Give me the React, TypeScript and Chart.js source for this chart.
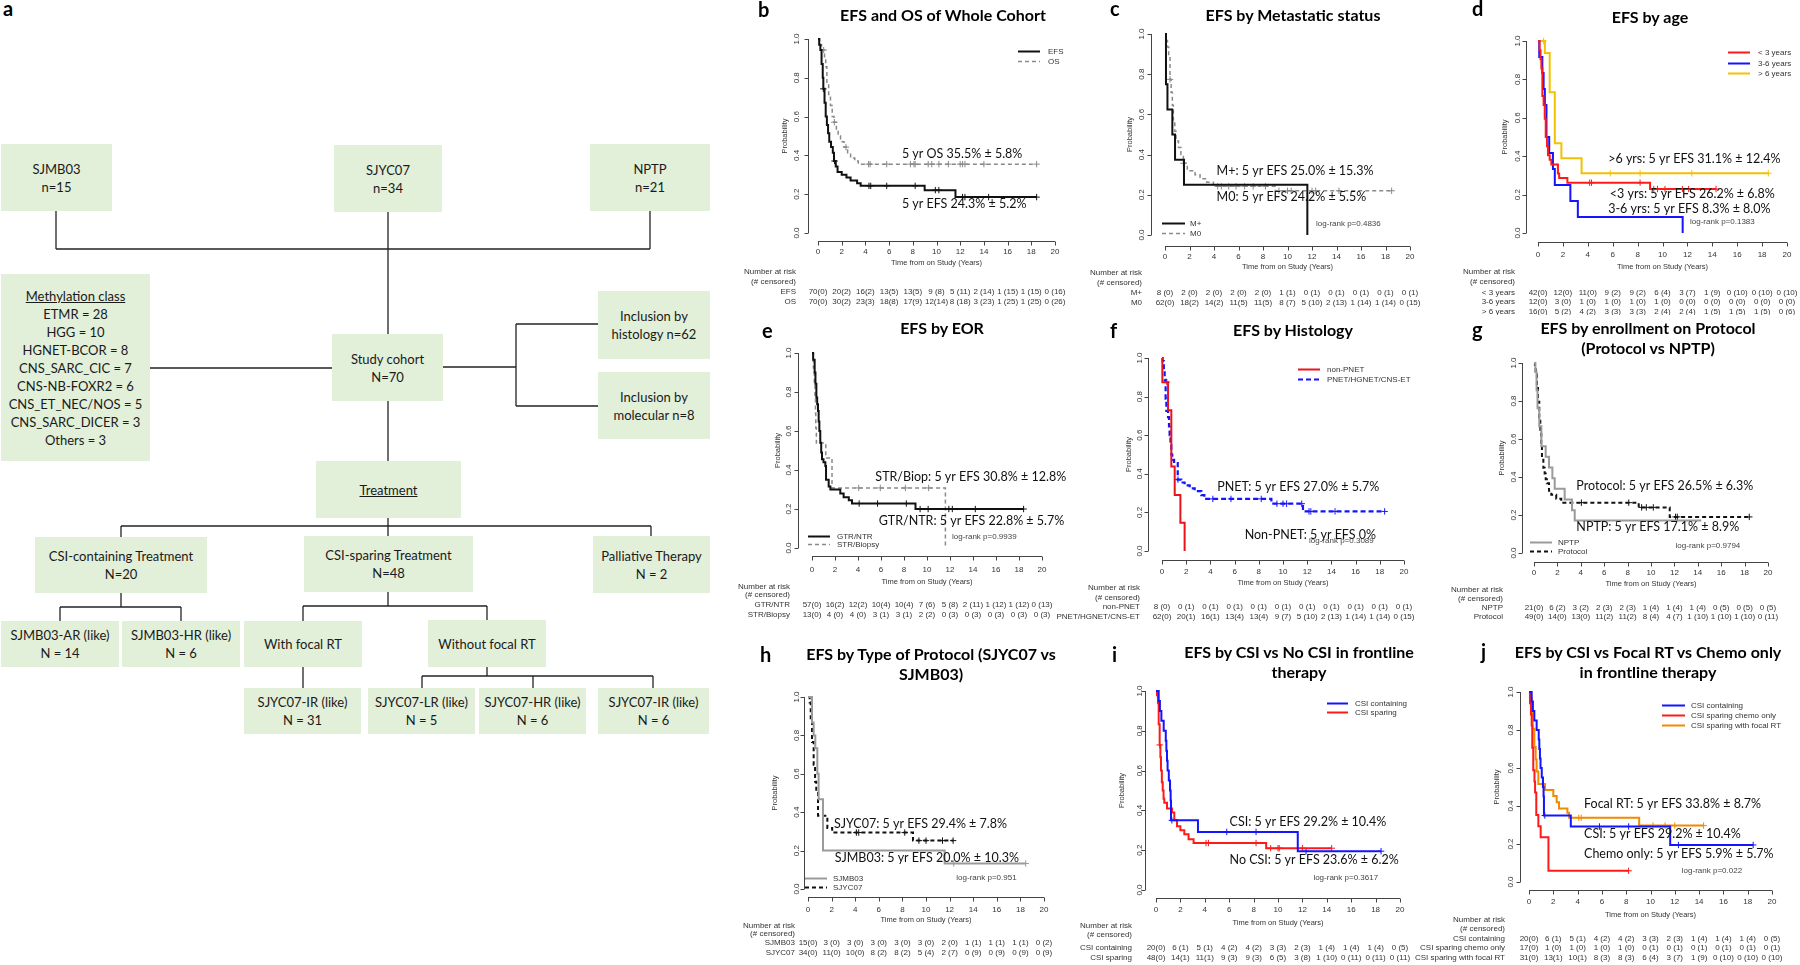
import React, { useEffect, useRef } from "react";
import { Chart, registerables } from "chart.js";
Chart.register(...registerables);

// ---------- shared axis data ----------
const X_TICKS = [0, 2, 4, 6, 8, 10, 12, 14, 16, 18, 20];
const Y_TICKS = [0, 0.2, 0.4, 0.6, 0.8, 1.0];
const Y_TICK_LABELS = ["0.0", "0.2", "0.4", "0.6", "0.8", "1.0"];
const X_TITLE = "Time from on Study (Years)";
const Y_TITLE = "Probability";

// ---------- b: EFS and OS of whole cohort ----------
const B_EFS_T = [0, 0.1, 0.2, 0.3, 0.4, 0.45, 0.55, 0.65, 0.75, 0.85, 0.95, 1.1, 1.25, 1.35, 1.5, 1.65, 2.0, 2.4, 2.75, 3.3, 3.6, 9.0, 11.6, 18.45];
const B_EFS_S = [1, 0.971, 0.943, 0.871, 0.8, 0.743, 0.671, 0.6, 0.557, 0.514, 0.471, 0.443, 0.414, 0.371, 0.343, 0.314, 0.3, 0.286, 0.271, 0.257, 0.243, 0.221, 0.185, 0.185];
const B_EFS_CENS = [0.45, 1.4, 4.3, 4.45, 5.8, 8.2, 9.9, 10.2, 12.2, 12.4, 14.4, 18.45];
const B_OS_T = [0, 0.15, 0.3, 0.55, 0.65, 0.75, 0.9, 1.05, 1.2, 1.35, 1.55, 1.7, 1.9, 2.2, 2.5, 2.75, 3.1, 3.4, 18.45];
const B_OS_S = [1, 0.971, 0.943, 0.9, 0.857, 0.771, 0.714, 0.657, 0.6, 0.571, 0.529, 0.5, 0.471, 0.443, 0.414, 0.386, 0.371, 0.355, 0.355];
const B_OS_CENS = [0.48, 1.38, 2.36, 4.27, 4.4, 5.8, 7.8, 8.1, 8.2, 9.3, 9.6, 10.2, 11.0, 12.0, 12.2, 12.4, 14.0, 18.45];
const B_RISK_EFS = ["70(0)", "20(2)", "16(2)", "13(5)", "13(5)", "9 (8)", "5 (11)", "2 (14)", "1 (15)", "1 (15)", "0 (16)"];
const B_RISK_OS = ["70(0)", "30(2)", "23(3)", "18(8)", "17(9)", "12(14)", "8 (18)", "3 (23)", "1 (25)", "1 (25)", "0 (26)"];

// ---------- c: metastatic status ----------
const C_MP_T = [0, 0.08, 0.2, 0.6, 0.82, 1.55, 11.62];
const C_MP_S = [1, 0.75, 0.625, 0.5, 0.375, 0.25, 0];
const C_MP_CENS: number[] = [];
const C_M0_T = [0, 0.1, 0.2, 0.3, 0.41, 0.5, 0.6, 0.68, 0.8, 0.9, 1.1, 1.3, 1.5, 1.82, 2.45, 2.86, 3.4, 3.95, 9.0, 18.5];
const C_M0_S = [1, 0.968, 0.935, 0.887, 0.774, 0.71, 0.645, 0.573, 0.516, 0.468, 0.435, 0.4, 0.357, 0.32, 0.3, 0.28, 0.262, 0.242, 0.22, 0.22];
const C_M0_CENS = [0.41, 1.5, 4.3, 4.6, 5.2, 5.8, 6.5, 7.2, 8.2, 9.3, 10.0, 10.3, 12.0, 12.3, 14.2, 18.5];
const C_RISK_MP = ["8 (0)", "2 (0)", "2 (0)", "2 (0)", "2 (0)", "1 (1)", "0 (1)", "0 (1)", "0 (1)", "0 (1)", "0 (1)"];
const C_RISK_M0 = ["62(0)", "18(2)", "14(2)", "11(5)", "11(5)", "8 (7)", "5 (10)", "2 (13)", "1 (14)", "1 (14)", "0 (15)"];

// ---------- d: age ----------
const D_LT3_T = [0, 0.13, 0.2, 0.27, 0.35, 0.45, 0.54, 0.62, 0.72, 0.8, 0.94, 1.07, 1.6, 1.7, 2.36, 9.0, 14.3];
const D_LT3_S = [1, 0.952, 0.905, 0.857, 0.714, 0.667, 0.595, 0.5, 0.452, 0.405, 0.381, 0.357, 0.31, 0.286, 0.262, 0.229, 0.229];
const D_LT3_CENS = [4.15, 4.3, 8.2, 9.3, 9.6, 10.2, 11.6, 12.1, 14.3];
const D_36_T = [0, 0.1, 0.35, 0.45, 0.55, 0.68, 0.9, 1.2, 1.35, 2.6, 3.2, 11.62];
const D_36_S = [1, 0.917, 0.833, 0.75, 0.667, 0.5, 0.417, 0.333, 0.25, 0.167, 0.083, 0];
const D_36_CENS: number[] = [];
const D_GT6_T = [0, 0.55, 0.94, 1.35, 1.88, 3.5, 18.5];
const D_GT6_S = [1, 0.9375, 0.733, 0.467, 0.389, 0.311, 0.311];
const D_GT6_CENS = [0.45, 5.8, 8.2, 12.35, 18.5];
const D_RISK_LT3 = ["42(0)", "12(0)", "11(0)", "9 (2)", "9 (2)", "6 (4)", "3 (7)", "1 (9)", "0 (10)", "0 (10)", "0 (10)"];
const D_RISK_36 = ["12(0)", "3 (0)", "1 (0)", "1 (0)", "1 (0)", "1 (0)", "0 (0)", "0 (0)", "0 (0)", "0 (0)", "0 (0)"];
const D_RISK_GT6 = ["16(0)", "5 (2)", "4 (2)", "3 (3)", "3 (3)", "2 (4)", "2 (4)", "1 (5)", "1 (5)", "1 (5)", "0 (6)"];

// ---------- e: extent of resection ----------
const E_GTR_T = [0, 0.1, 0.23, 0.3, 0.38, 0.45, 0.52, 0.58, 0.64, 0.72, 0.8, 0.87, 1.0, 1.16, 1.22, 1.45, 1.6, 2.46, 2.75, 3.2, 3.48, 9.0, 18.4];
const E_GTR_S = [1, 0.965, 0.9, 0.842, 0.772, 0.737, 0.702, 0.649, 0.6, 0.54, 0.49, 0.455, 0.44, 0.42, 0.35, 0.316, 0.3, 0.28, 0.26, 0.245, 0.228, 0.2, 0.2];
const E_GTR_CENS = [4.1, 5.7, 8.2, 9.4, 10.1, 11.9, 12.2, 14.2, 18.4];
const E_STR_T = [0, 0.12, 0.2, 0.26, 0.3, 0.33, 0.38, 1.2, 1.74, 11.6];
const E_STR_S = [1, 0.923, 0.846, 0.769, 0.692, 0.615, 0.538, 0.462, 0.308, 0];
const E_STR_CENS = [4.06, 5.94, 8.12, 10.14];
const E_RISK_GTR = ["57(0)", "16(2)", "12(2)", "10(4)", "10(4)", "7 (6)", "5 (8)", "2 (11)", "1 (12)", "1 (12)", "0 (13)"];
const E_RISK_STR = ["13(0)", "4 (0)", "4 (0)", "3 (1)", "3 (1)", "2 (2)", "0 (3)", "0 (3)", "0 (3)", "0 (3)", "0 (3)"];

// ---------- f: histology ----------
const F_NON_T = [0, 0.03, 0.5, 0.77, 1.05, 1.52, 1.87];
const F_NON_S = [1, 0.875, 0.729, 0.4375, 0.29, 0.146, 0];
const F_NON_CENS = [0.4];
const F_PNET_T = [0, 0.05, 0.15, 0.22, 0.3, 0.36, 0.5, 0.58, 0.63, 0.7, 0.77, 0.85, 1.0, 1.3, 1.6, 1.87, 2.29, 2.7, 3.25, 3.5, 9.04, 11.65, 18.4];
const F_PNET_S = [1, 0.984, 0.935, 0.887, 0.79, 0.726, 0.694, 0.645, 0.6, 0.548, 0.5, 0.472, 0.455, 0.37, 0.355, 0.34, 0.325, 0.31, 0.29, 0.27, 0.245, 0.205, 0.205];
const F_PNET_CENS = [1.32, 4.2, 5.7, 8.2, 9.5, 10.0, 10.3, 11.55, 12.15, 12.3, 14.3, 18.4];
const F_RISK_NON = ["8 (0)", "0 (1)", "0 (1)", "0 (1)", "0 (1)", "0 (1)", "0 (1)", "0 (1)", "0 (1)", "0 (1)", "0 (1)"];
const F_RISK_PNET = ["62(0)", "20(1)", "16(1)", "13(4)", "13(4)", "9 (7)", "5 (10)", "2 (13)", "1 (14)", "1 (14)", "0 (15)"];

// ---------- g: protocol vs NPTP ----------
const G_NPTP_T = [0, 0.12, 0.22, 0.3, 0.45, 0.63, 1.0, 1.28, 1.57, 1.77, 2.62, 3.25, 3.48, 14.3];
const G_NPTP_S = [1, 0.952, 0.857, 0.762, 0.667, 0.562, 0.506, 0.45, 0.394, 0.338, 0.281, 0.225, 0.171, 0.171];
const G_NPTP_CENS: number[] = [];
const G_PROT_T = [0, 0.08, 0.14, 0.25, 0.34, 0.45, 0.54, 0.62, 0.68, 0.8, 0.91, 1.0, 1.1, 1.28, 1.48, 1.9, 2.33, 8.95, 11.6, 18.4];
const G_PROT_S = [1, 0.98, 0.939, 0.878, 0.796, 0.714, 0.633, 0.571, 0.5, 0.449, 0.418, 0.388, 0.367, 0.327, 0.306, 0.286, 0.265, 0.24, 0.19, 0.19];
const G_PROT_CENS = [4.05, 8.1, 9.2, 9.6, 10.2, 12.1, 12.25, 18.4];
const G_RISK_NPTP = ["21(0)", "6 (2)", "3 (2)", "2 (3)", "2 (3)", "1 (4)", "1 (4)", "1 (4)", "0 (5)", "0 (5)", "0 (5)"];
const G_RISK_PROT = ["49(0)", "14(0)", "13(0)", "11(2)", "11(2)", "8 (4)", "4 (7)", "1 (10)", "1 (10)", "1 (10)", "0 (11)"];

// ---------- h: SJYC07 vs SJMB03 ----------
const H_MB_T = [0, 0.34, 0.48, 0.62, 0.79, 0.9, 1.27, 11.58, 18.45];
const H_MB_S = [1, 0.867, 0.8, 0.733, 0.6, 0.467, 0.2, 0.133, 0.133];
const H_MB_CENS = [12.35, 18.45];
const H_YC_T = [0, 0.14, 0.23, 0.34, 0.48, 0.6, 0.7, 0.85, 1.64, 2.05, 8.9, 12.3];
const H_YC_S = [1, 0.971, 0.882, 0.765, 0.647, 0.559, 0.5, 0.382, 0.318, 0.294, 0.252, 0.252];
const H_YC_CENS = [4.1, 4.3, 8.2, 9.4, 10.0, 11.4, 12.3];
const H_RISK_MB = ["15(0)", "3 (0)", "3 (0)", "3 (0)", "3 (0)", "3 (0)", "2 (0)", "1 (1)", "1 (1)", "1 (1)", "0 (2)"];
const H_RISK_YC = ["34(0)", "11(0)", "10(0)", "8 (2)", "8 (2)", "5 (4)", "2 (7)", "0 (9)", "0 (9)", "0 (9)", "0 (9)"];

// ---------- i / j: CSI ----------
const CSI_CONT_T = [0, 0.22, 0.32, 0.44, 0.63, 0.8, 0.85, 0.9, 0.95, 1.05, 1.15, 1.2, 1.23, 3.44, 11.62, 18.45];
const CSI_CONT_S = [1, 0.95, 0.9, 0.85, 0.8, 0.75, 0.7, 0.65, 0.6, 0.55, 0.5, 0.45, 0.35, 0.292, 0.195, 0.195];
const CSI_CONT_CENS = [1.3, 5.8, 8.2, 12.3, 18.45];
const I_SP_T = [0, 0.08, 0.16, 0.22, 0.3, 0.36, 0.41, 0.48, 0.55, 0.62, 0.68, 0.9, 1.31, 1.5, 1.72, 2.0, 2.32, 2.67, 3.08, 9.03, 14.4];
const I_SP_S = [1, 0.979, 0.938, 0.833, 0.729, 0.667, 0.6, 0.542, 0.5, 0.458, 0.438, 0.41, 0.39, 0.35, 0.32, 0.3, 0.28, 0.255, 0.236, 0.21, 0.21];
const I_SP_CENS = [0.3, 4.1, 4.3, 8.2, 9.4, 10.0, 10.1, 12.0, 14.4];
const RISK_CSI_CONT = ["20(0)", "6 (1)", "5 (1)", "4 (2)", "4 (2)", "3 (3)", "2 (3)", "1 (4)", "1 (4)", "1 (4)", "0 (5)"];
const I_RISK_SP = ["48(0)", "14(1)", "11(1)", "9 (3)", "9 (3)", "6 (5)", "3 (8)", "1 (10)", "0 (11)", "0 (11)", "0 (11)"];
const J_CHEMO_T = [0, 0.08, 0.16, 0.22, 0.27, 0.35, 0.45, 0.5, 0.6, 0.77, 0.96, 1.6, 8.2];
const J_CHEMO_S = [1, 0.941, 0.882, 0.824, 0.706, 0.588, 0.529, 0.471, 0.353, 0.294, 0.235, 0.059, 0.059];
const J_CHEMO_CENS = [8.2];
const J_FOCAL_T = [0, 0.08, 0.22, 0.3, 0.44, 0.55, 0.63, 0.77, 1.32, 2.0, 2.28, 2.47, 3.16, 3.3, 9.07, 14.37];
const J_FOCAL_S = [1, 0.968, 0.903, 0.806, 0.71, 0.645, 0.581, 0.516, 0.484, 0.452, 0.42, 0.387, 0.365, 0.338, 0.297, 0.297];
const J_FOCAL_CENS = [1.1, 4.1, 4.3, 10.2, 11.2, 12.0, 14.37];
const J_RISK_CHEMO = ["17(0)", "1 (0)", "1 (0)", "1 (0)", "1 (0)", "0 (1)", "0 (1)", "0 (1)", "0 (1)", "0 (1)", "0 (1)"];
const J_RISK_FOCAL = ["31(0)", "13(1)", "10(1)", "8 (3)", "8 (3)", "6 (4)", "3 (7)", "1 (9)", "0 (10)", "0 (10)", "0 (10)"];

// ---------- styles ----------
const TEXT_COLOR = "#333";
const AXIS_COLOR = "#444";
const SMALL_FONT = '8px "Liberation Sans", Arial, sans-serif';
const AXIS_TITLE_FONT = '7.5px "Liberation Sans", Arial, sans-serif';
const NOTE_FONT = '12.5px Lato, "Open Sans", sans-serif';
const BOX_FILL = "#e2efd9";

type Curve = { label: string; t: number[]; s: number[]; cens: number[]; color: string; width: number; dash: number[] };
type Note = { text: string; t: number; p: number; small?: boolean };
type Panel = {
  letter: string; letterX: number; letterBase: number;
  title: string[]; titleCX: number; titleY: number;
  box: number[];
  x0: number; x20: number; y1: number; y0: number;
  axisX: number; axisY: number; yTickX: number; yTitleX: number; xTickY: number; xTitleY: number;
  curves: Curve[];
  legend: { x1: number; x2: number; tx: number; ys: number[] };
  notes: Note[];
  risk: { labelRight: number; headY: number[]; rowYs: number[]; rows: { label: string; values: string[] }[] };
};

const BLACK = "#111";
const GREY = "#8a8a8a";
const RED = "#ff1a1a";
const BLUE = "#1414ff";
const YELLOW = "#f2c200";
const ORANGE = "#f28a00";

const PANELS: Panel[] = [
  {
    letter: "b", letterX: 758, letterBase: 17, title: ["EFS and OS of Whole Cohort"], titleCX: 943, titleY: 15,
    box: [735, 0, 335, 315], x0: 818, x20: 1055, y1: 39, y0: 233,
    axisX: 808, axisY: 241, yTickX: 797, yTitleX: 785, xTickY: 252, xTitleY: 263,
    curves: [
      { label: "EFS", t: B_EFS_T, s: B_EFS_S, cens: B_EFS_CENS, color: BLACK, width: 2, dash: [] },
      { label: "OS", t: B_OS_T, s: B_OS_S, cens: B_OS_CENS, color: GREY, width: 1.5, dash: [4, 3] },
    ],
    legend: { x1: 1018, x2: 1040, tx: 1048, ys: [51, 61] },
    notes: [
      { text: "5 yr OS 35.5% ± 5.8%", t: 7.08, p: 0.407 },
      { text: "5 yr EFS 24.3% ± 5.2%", t: 7.08, p: 0.148 },
    ],
    risk: { labelRight: 796, headY: [272, 282], rowYs: [292, 302], rows: [{ label: "EFS", values: B_RISK_EFS }, { label: "OS", values: B_RISK_OS }] },
  },
  {
    letter: "c", letterX: 1110, letterBase: 16, title: ["EFS by Metastatic status"], titleCX: 1293, titleY: 15,
    box: [1070, 0, 370, 315], x0: 1165, x20: 1410, y1: 34, y0: 235,
    axisX: 1151, axisY: 246, yTickX: 1142, yTitleX: 1130, xTickY: 257, xTitleY: 267,
    curves: [
      { label: "M+", t: C_MP_T, s: C_MP_S, cens: C_MP_CENS, color: BLACK, width: 2, dash: [] },
      { label: "M0", t: C_M0_T, s: C_M0_S, cens: C_M0_CENS, color: GREY, width: 1.5, dash: [4, 3] },
    ],
    legend: { x1: 1162, x2: 1185, tx: 1190, ys: [223, 233] },
    notes: [
      { text: "M+: 5 yr EFS 25.0% ± 15.3%", t: 4.21, p: 0.321 },
      { text: "M0: 5 yr EFS 24.2% ± 5.5%", t: 4.21, p: 0.188 },
      { text: "log-rank p=0.4836", t: 12.33, p: 0.055, small: true },
    ],
    risk: { labelRight: 1142, headY: [273, 283], rowYs: [293, 303], rows: [{ label: "M+", values: C_RISK_MP }, { label: "M0", values: C_RISK_M0 }] },
  },
  {
    letter: "d", letterX: 1472, letterBase: 16, title: ["EFS by age"], titleCX: 1650, titleY: 17,
    box: [1440, 0, 360, 315], x0: 1538, x20: 1787, y1: 41, y0: 233,
    axisX: 1526, axisY: 242, yTickX: 1518, yTitleX: 1505, xTickY: 255, xTitleY: 267,
    curves: [
      { label: "< 3 years", t: D_LT3_T, s: D_LT3_S, cens: D_LT3_CENS, color: RED, width: 2, dash: [] },
      { label: "3-6 years", t: D_36_T, s: D_36_S, cens: D_36_CENS, color: BLUE, width: 2, dash: [] },
      { label: "> 6 years", t: D_GT6_T, s: D_GT6_S, cens: D_GT6_CENS, color: YELLOW, width: 2, dash: [] },
    ],
    legend: { x1: 1728, x2: 1750, tx: 1758, ys: [52, 63, 73] },
    notes: [
      { text: ">6 yrs: 5 yr EFS 31.1% ± 12.4%", t: 5.64, p: 0.384 },
      { text: "<3 yrs: 5 yr EFS 26.2% ± 6.8%", t: 5.77, p: 0.201 },
      { text: "3-6 yrs: 5 yr EFS 8.3% ± 8.0%", t: 5.64, p: 0.127 },
      { text: "log-rank p=0.1383", t: 12.21, p: 0.057, small: true },
    ],
    risk: { labelRight: 1515, headY: [272, 282], rowYs: [293, 302, 312], rows: [{ label: "< 3 years", values: D_RISK_LT3 }, { label: "3-6 years", values: D_RISK_36 }, { label: "> 6 years", values: D_RISK_GT6 }] },
  },
  {
    letter: "e", letterX: 762, letterBase: 338, title: ["EFS by EOR"], titleCX: 942, titleY: 328,
    box: [735, 315, 335, 315], x0: 812, x20: 1042, y1: 353, y0: 548,
    axisX: 798, axisY: 556, yTickX: 789, yTitleX: 778, xTickY: 570, xTitleY: 582,
    curves: [
      { label: "GTR/NTR", t: E_GTR_T, s: E_GTR_S, cens: E_GTR_CENS, color: BLACK, width: 2, dash: [] },
      { label: "STR/Biopsy", t: E_STR_T, s: E_STR_S, cens: E_STR_CENS, color: GREY, width: 1.5, dash: [4, 3] },
    ],
    legend: { x1: 808, x2: 830, tx: 837, ys: [536, 544] },
    notes: [
      { text: "STR/Biop: 5 yr EFS 30.8% ± 12.8%", t: 5.51, p: 0.362 },
      { text: "GTR/NTR: 5 yr EFS 22.8% ± 5.7%", t: 5.8, p: 0.14 },
      { text: "log-rank p=0.9939", t: 12.17, p: 0.055, small: true },
    ],
    risk: { labelRight: 790, headY: [587, 595], rowYs: [605, 615], rows: [{ label: "GTR/NTR", values: E_RISK_GTR }, { label: "STR/Biopsy", values: E_RISK_STR }] },
  },
  {
    letter: "f", letterX: 1110, letterBase: 338, title: ["EFS by Histology"], titleCX: 1293, titleY: 330,
    box: [1040, 315, 400, 315], x0: 1162, x20: 1404, y1: 358, y0: 551,
    axisX: 1148, axisY: 560, yTickX: 1140, yTitleX: 1129, xTickY: 572, xTitleY: 583,
    curves: [
      { label: "non-PNET", t: F_NON_T, s: F_NON_S, cens: F_NON_CENS, color: "#e8141c", width: 2, dash: [] },
      { label: "PNET/HGNET/CNS-ET", t: F_PNET_T, s: F_PNET_S, cens: F_PNET_CENS, color: BLUE, width: 2.2, dash: [5, 3] },
    ],
    legend: { x1: 1298, x2: 1320, tx: 1327, ys: [369, 379] },
    notes: [
      { text: "PNET: 5 yr EFS 27.0% ± 5.7%", t: 4.57, p: 0.334 },
      { text: "Non-PNET: 5 yr EFS 0%", t: 6.83, p: 0.083 },
      { text: "log-rank p=0.3089", t: 12.15, p: 0.052, small: true },
    ],
    risk: { labelRight: 1140, headY: [588, 598], rowYs: [607, 617], rows: [{ label: "non-PNET", values: F_RISK_NON }, { label: "PNET/HGNET/CNS-ET", values: F_RISK_PNET }] },
  },
  {
    letter: "g", letterX: 1472, letterBase: 337, title: ["EFS by enrollment on Protocol", "(Protocol vs NPTP)"], titleCX: 1648, titleY: 328,
    box: [1440, 315, 360, 315], x0: 1534, x20: 1768, y1: 363, y0: 553,
    axisX: 1522, axisY: 562, yTickX: 1514, yTitleX: 1502, xTickY: 573, xTitleY: 584,
    curves: [
      { label: "NPTP", t: G_NPTP_T, s: G_NPTP_S, cens: G_NPTP_CENS, color: "#9a9a9a", width: 2, dash: [] },
      { label: "Protocol", t: G_PROT_T, s: G_PROT_S, cens: G_PROT_CENS, color: BLACK, width: 2, dash: [4, 3] },
    ],
    legend: { x1: 1530, x2: 1552, tx: 1558, ys: [542, 551] },
    notes: [
      { text: "Protocol: 5 yr EFS 26.5% ± 6.3%", t: 3.62, p: 0.353 },
      { text: "NPTP: 5 yr EFS 17.1% ± 8.9%", t: 3.62, p: 0.139 },
      { text: "log-rank p=0.9794", t: 12.1, p: 0.04, small: true },
    ],
    risk: { labelRight: 1503, headY: [590, 599], rowYs: [608, 617], rows: [{ label: "NPTP", values: G_RISK_NPTP }, { label: "Protocol", values: G_RISK_PROT }] },
  },
  {
    letter: "h", letterX: 760, letterBase: 662, title: ["EFS by Type of Protocol (SJYC07 vs", "SJMB03)"], titleCX: 931, titleY: 654,
    box: [735, 630, 335, 335], x0: 808, x20: 1044, y1: 697, y0: 889,
    axisX: 804, axisY: 897, yTickX: 797, yTitleX: 775, xTickY: 910, xTitleY: 920,
    curves: [
      { label: "SJMB03", t: H_MB_T, s: H_MB_S, cens: H_MB_CENS, color: "#9a9a9a", width: 2, dash: [] },
      { label: "SJYC07", t: H_YC_T, s: H_YC_S, cens: H_YC_CENS, color: BLACK, width: 2, dash: [4, 3] },
    ],
    legend: { x1: 805, x2: 827, tx: 833, ys: [878, 887] },
    notes: [
      { text: "SJYC07: 5 yr EFS 29.4% ± 7.8%", t: 2.2, p: 0.337 },
      { text: "SJMB03: 5 yr EFS 20.0% ± 10.3%", t: 2.26, p: 0.164 },
      { text: "log-rank p=0.951", t: 12.57, p: 0.057, small: true },
    ],
    risk: { labelRight: 795, headY: [926, 934], rowYs: [943, 953], rows: [{ label: "SJMB03", values: H_RISK_MB }, { label: "SJYC07", values: H_RISK_YC }] },
  },
  {
    letter: "i", letterX: 1112, letterBase: 662, title: ["EFS by CSI vs No CSI in frontline", "therapy"], titleCX: 1299, titleY: 652,
    box: [1070, 630, 370, 335], x0: 1156, x20: 1400, y1: 691, y0: 890,
    axisX: 1145, axisY: 898, yTickX: 1140, yTitleX: 1122, xTickY: 910, xTitleY: 923,
    curves: [
      { label: "CSI containing", t: CSI_CONT_T, s: CSI_CONT_S, cens: CSI_CONT_CENS, color: BLUE, width: 2, dash: [] },
      { label: "CSI sparing", t: I_SP_T, s: I_SP_S, cens: I_SP_CENS, color: RED, width: 2, dash: [] },
    ],
    legend: { x1: 1327, x2: 1348, tx: 1355, ys: [703, 712] },
    notes: [
      { text: "CSI: 5 yr EFS 29.2% ± 10.4%", t: 6.03, p: 0.343 },
      { text: "No CSI: 5 yr EFS 23.6% ± 6.2%", t: 6.03, p: 0.151 },
      { text: "log-rank p=0.3617", t: 12.9, p: 0.059, small: true },
    ],
    risk: { labelRight: 1132, headY: [926, 935], rowYs: [948, 958], rows: [{ label: "CSI containing", values: RISK_CSI_CONT }, { label: "CSI sparing", values: I_RISK_SP }] },
  },
  {
    letter: "j", letterX: 1481, letterBase: 659, title: ["EFS by CSI vs Focal RT vs Chemo only", "in frontline therapy"], titleCX: 1648, titleY: 652,
    box: [1400, 630, 400, 335], x0: 1529, x20: 1772, y1: 692, y0: 882,
    axisX: 1520, axisY: 890, yTickX: 1511, yTitleX: 1497, xTickY: 902, xTitleY: 915,
    curves: [
      { label: "CSI containing", t: CSI_CONT_T, s: CSI_CONT_S, cens: CSI_CONT_CENS, color: BLUE, width: 2, dash: [] },
      { label: "CSI sparing chemo only", t: J_CHEMO_T, s: J_CHEMO_S, cens: J_CHEMO_CENS, color: RED, width: 2, dash: [] },
      { label: "CSI sparing with focal RT", t: J_FOCAL_T, s: J_FOCAL_S, cens: J_FOCAL_CENS, color: ORANGE, width: 2, dash: [] },
    ],
    legend: { x1: 1662, x2: 1685, tx: 1691, ys: [705, 715, 725] },
    notes: [
      { text: "Focal RT: 5 yr EFS 33.8% ± 8.7%", t: 4.53, p: 0.412 },
      { text: "CSI: 5 yr EFS 29.2% ± 10.4%", t: 4.53, p: 0.254 },
      { text: "Chemo only: 5 yr EFS 5.9% ± 5.7%", t: 4.53, p: 0.149 },
      { text: "log-rank p=0.022", t: 12.58, p: 0.058, small: true },
    ],
    risk: { labelRight: 1505, headY: [920, 929], rowYs: [939, 948, 958], rows: [{ label: "CSI containing", values: RISK_CSI_CONT }, { label: "CSI sparing chemo only", values: J_RISK_CHEMO }, { label: "CSI sparing with focal RT", values: J_RISK_FOCAL }] },
  },
];

// ---------- flowchart (panel a) ----------
const FLOW_BOXES: { x: number; y: number; w: number; h: number; lines: string[]; u?: boolean }[] = [
  { x: 1, y: 144, w: 111, h: 67, lines: ["SJMB03", "n=15"] },
  { x: 334, y: 145, w: 108, h: 67, lines: ["SJYC07", "n=34"] },
  { x: 590, y: 144, w: 120, h: 67, lines: ["NPTP", "n=21"] },
  { x: 1, y: 274, w: 149, h: 187, lines: ["Methylation class", "ETMR = 28", "HGG = 10", "HGNET-BCOR = 8", "CNS_SARC_CIC = 7", "CNS-NB-FOXR2 = 6", "CNS_ET_NEC/NOS = 5", "CNS_SARC_DICER = 3", "Others = 3"], u: true },
  { x: 332, y: 334, w: 111, h: 67, lines: ["Study cohort", "N=70"] },
  { x: 598, y: 291, w: 112, h: 68, lines: ["Inclusion by", "histology n=62"] },
  { x: 598, y: 372, w: 112, h: 67, lines: ["Inclusion by", "molecular n=8"] },
  { x: 316, y: 461, w: 145, h: 57, lines: ["Treatment"], u: true },
  { x: 35, y: 537, w: 172, h: 56, lines: ["CSI-containing Treatment", "N=20"] },
  { x: 304, y: 536, w: 169, h: 56, lines: ["CSI-sparing Treatment", "N=48"] },
  { x: 593, y: 536, w: 117, h: 57, lines: ["Palliative Therapy", "N = 2"] },
  { x: 1, y: 621, w: 118, h: 46, lines: ["SJMB03-AR (like)", "N = 14"] },
  { x: 122, y: 621, w: 118, h: 46, lines: ["SJMB03-HR (like)", "N = 6"] },
  { x: 244, y: 621, w: 118, h: 46, lines: ["With focal RT"] },
  { x: 428, y: 620, w: 118, h: 47, lines: ["Without focal RT"] },
  { x: 244, y: 688, w: 117, h: 46, lines: ["SJYC07-IR (like)", "N = 31"] },
  { x: 368, y: 688, w: 107, h: 46, lines: ["SJYC07-LR (like)", "N = 5"] },
  { x: 479, y: 688, w: 107, h: 46, lines: ["SJYC07-HR (like)", "N = 6"] },
  { x: 598, y: 688, w: 111, h: 46, lines: ["SJYC07-IR (like)", "N = 6"] },
];
const FLOW_LINES: number[][] = [
  [56, 211, 56, 249], [650, 211, 650, 249], [56, 249, 650, 249], [388, 212, 388, 334],
  [150, 368, 332, 368], [443, 367, 516, 367], [516, 324, 516, 406], [516, 324, 598, 324], [516, 406, 598, 406],
  [388, 401, 388, 461], [388, 518, 388, 526], [121, 526, 651, 526], [121, 526, 121, 537], [388, 526, 388, 536], [651, 526, 651, 536],
  [121, 593, 121, 607], [60, 607, 181, 607], [60, 607, 60, 621], [181, 607, 181, 621],
  [388, 592, 388, 606], [303, 606, 487, 606], [303, 606, 303, 621], [487, 606, 487, 620],
  [303, 667, 303, 688], [487, 667, 487, 676], [422, 676, 653, 676], [422, 676, 422, 688], [533, 676, 533, 688], [653, 676, 653, 688],
];

function survAt(t: number[], s: number[], x: number): number {
  let v = s[0];
  for (let i = 0; i < t.length; i++) if (t[i] <= x) v = s[i];
  return v;
}

function decorPlugin(p: Panel) {
  return {
    id: "kmDecor",
    afterDraw(chart: any) {
      const ctx: CanvasRenderingContext2D = chart.ctx;
      const xs = chart.scales.x;
      const ys = chart.scales.y;
      const X = (v: number) => xs.getPixelForValue(v);
      const Y = (v: number) => ys.getPixelForValue(v);
      const ox = p.box[0];
      const oy = p.box[1];
      ctx.save();
      ctx.setLineDash([]);
      ctx.lineWidth = 1;
      ctx.strokeStyle = AXIS_COLOR;
      ctx.fillStyle = TEXT_COLOR;
      ctx.font = SMALL_FONT;
      ctx.textAlign = "center";
      ctx.textBaseline = "middle";
      // y axis
      const ax = Math.round(p.axisX - ox) + 0.5;
      ctx.beginPath();
      ctx.moveTo(ax, Y(Y_TICKS[0]));
      ctx.lineTo(ax, Y(Y_TICKS[Y_TICKS.length - 1]));
      ctx.stroke();
      Y_TICKS.forEach((v, i) => {
        const py = Math.round(Y(v)) + 0.5;
        ctx.beginPath();
        ctx.moveTo(ax, py);
        ctx.lineTo(ax - 4, py);
        ctx.stroke();
        ctx.save();
        ctx.translate(p.yTickX - ox, Y(v));
        ctx.rotate(-Math.PI / 2);
        ctx.fillText(Y_TICK_LABELS[i], 0, 0);
        ctx.restore();
      });
      // x axis
      const ay = Math.round(p.axisY - oy) + 0.5;
      ctx.beginPath();
      ctx.moveTo(X(X_TICKS[0]), ay);
      ctx.lineTo(X(X_TICKS[X_TICKS.length - 1]), ay);
      ctx.stroke();
      X_TICKS.forEach((v) => {
        const px = Math.round(X(v)) + 0.5;
        ctx.beginPath();
        ctx.moveTo(px, ay);
        ctx.lineTo(px, ay + 4);
        ctx.stroke();
        ctx.fillText(String(v), X(v), p.xTickY - oy);
      });
      // axis titles
      ctx.font = AXIS_TITLE_FONT;
      ctx.fillText(X_TITLE, X(10), p.xTitleY - oy);
      ctx.save();
      ctx.translate(p.yTitleX - ox, Y(0.5));
      ctx.rotate(-Math.PI / 2);
      ctx.fillText(Y_TITLE, 0, 0);
      ctx.restore();
      // legend
      ctx.font = SMALL_FONT;
      ctx.textAlign = "left";
      p.curves.forEach((c, i) => {
        const ly = Math.round(p.legend.ys[i] - oy) + 0.5;
        ctx.save();
        ctx.strokeStyle = c.color;
        ctx.lineWidth = c.width;
        ctx.setLineDash(c.dash);
        ctx.beginPath();
        ctx.moveTo(p.legend.x1 - ox, ly);
        ctx.lineTo(p.legend.x2 - ox, ly);
        ctx.stroke();
        ctx.restore();
        ctx.fillText(c.label, p.legend.tx - ox, ly);
      });
      // annotations
      p.notes.forEach((n) => {
        ctx.font = n.small ? SMALL_FONT : NOTE_FONT;
        ctx.fillStyle = n.small ? "#444" : "#111";
        ctx.fillText(n.text, X(n.t), Y(n.p));
      });
      // risk table
      ctx.fillStyle = TEXT_COLOR;
      ctx.font = SMALL_FONT;
      ctx.textAlign = "right";
      const lr = p.risk.labelRight - ox;
      ctx.fillText("Number at risk", lr, p.risk.headY[0] - oy);
      ctx.fillText("(# censored)", lr, p.risk.headY[1] - oy);
      p.risk.rows.forEach((r, i) => {
        const ry = p.risk.rowYs[i] - oy;
        ctx.textAlign = "right";
        ctx.fillText(r.label, lr, ry);
        ctx.textAlign = "center";
        r.values.forEach((v, k) => ctx.fillText(v, X(X_TICKS[k]), ry));
      });
      ctx.restore();
    },
  };
}

function KMPanel({ p }: { p: Panel }) {
  const ref = useRef<HTMLCanvasElement>(null);
  useEffect(() => {
    const canvas = ref.current;
    if (!canvas) return;
    const [bl, bt, bw, bh] = p.box;
    const datasets: any[] = [];
    p.curves.forEach((c) => {
      datasets.push({
        label: c.label,
        data: c.t.map((x, i) => ({ x, y: c.s[i] })),
        borderColor: c.color,
        borderWidth: c.width,
        borderDash: c.dash,
        stepped: "before",
        pointRadius: 0,
        fill: false,
        clip: false,
      });
    });
    p.curves.forEach((c) => {
      if (!c.cens.length) return;
      datasets.push({
        label: c.label + " censored",
        data: c.cens.map((x) => ({ x, y: survAt(c.t, c.s, x) })),
        showLine: false,
        pointStyle: "cross",
        pointRadius: 3.2,
        pointBorderColor: c.color,
        pointBorderWidth: 1,
        borderColor: c.color,
        clip: false,
      });
    });
    const chart = new Chart(canvas, {
      type: "line",
      data: { datasets },
      options: {
        animation: false,
        responsive: false,
        devicePixelRatio: 1,
        events: [],
        layout: {
          padding: {
            left: p.x0 - bl,
            right: bl + bw - p.x20,
            top: p.y1 - bt,
            bottom: bt + bh - p.y0,
          },
        },
        plugins: { legend: { display: false }, title: { display: false }, tooltip: { enabled: false } },
        scales: {
          x: { type: "linear", min: X_TICKS[0], max: X_TICKS[X_TICKS.length - 1], display: false },
          y: { type: "linear", min: Y_TICKS[0], max: Y_TICKS[Y_TICKS.length - 1], display: false },
        },
      },
      plugins: [decorPlugin(p)],
    } as any);
    return () => chart.destroy();
  }, [p]);
  const [bl, bt, bw, bh] = p.box;
  return (
    <>
      <canvas ref={ref} width={bw} height={bh} style={{ position: "absolute", left: bl, top: bt, width: bw, height: bh }} />
      <div style={{ position: "absolute", left: p.letterX, top: p.letterBase - 17.7, fontFamily: "Lato, sans-serif", fontWeight: 700, fontSize: 20, lineHeight: "20px", color: "#000" }}>{p.letter}</div>
      {p.title.map((line, i) => (
        <div key={i} style={{ position: "absolute", left: p.titleCX - 200, width: 400, top: p.titleY - 10 + i * 20, textAlign: "center", fontFamily: "Lato, sans-serif", fontWeight: 700, fontSize: 16, lineHeight: "20px", color: "#000", whiteSpace: "nowrap" }}>{line}</div>
      ))}
    </>
  );
}

function Flowchart() {
  return (
    <>
      <div style={{ position: "absolute", left: 3, top: -2, fontFamily: "Lato, sans-serif", fontWeight: 700, fontSize: 20, lineHeight: "20px" }}>a</div>
      {FLOW_BOXES.map((b, i) => (
        <div key={i} style={{ position: "absolute", left: b.x, top: b.y, width: b.w, height: b.h, background: BOX_FILL, display: "flex", flexDirection: "column", justifyContent: "center", alignItems: "center", fontFamily: "Lato, sans-serif", fontSize: 13, lineHeight: "18px", color: "#1a1a1a", whiteSpace: "nowrap" }}>
          {b.lines.map((l, k) => (
            <div key={k} style={{ textDecoration: b.u && k === 0 ? "underline" : "none" }}>{l}</div>
          ))}
        </div>
      ))}
      <svg width={720} height={760} style={{ position: "absolute", left: 0, top: 0 }}>
        {FLOW_LINES.map((l, i) => (
          <line key={i} x1={l[0]} y1={l[1]} x2={l[2]} y2={l[3]} stroke="#222" strokeWidth={1.3} />
        ))}
      </svg>
    </>
  );
}

export default function App() {
  return (
    <div style={{ position: "absolute", left: 0, top: 0, width: 1800, height: 965, background: "#fff", overflow: "hidden" }}>
      <Flowchart />
      {PANELS.map((p) => (
        <KMPanel key={p.letter} p={p} />
      ))}
    </div>
  );
}
